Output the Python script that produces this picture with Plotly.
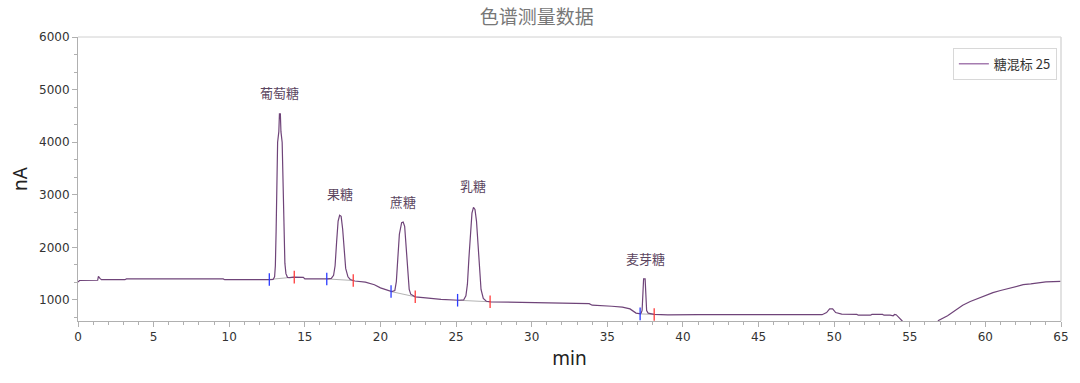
import plotly.graph_objects as go

# Chromatogram signal (time in min, signal in nA)
time_min = [0.0, 0.1, 1.3, 1.35, 1.45, 1.55, 3.1, 3.2, 9.6, 9.7, 12.7,
            12.9, 13.0, 13.05, 13.1, 13.15, 13.2, 13.28, 13.32, 13.38, 13.42, 13.5, 13.55, 13.6, 13.68, 13.75, 13.85,
            14.0, 14.3, 14.9, 15.0, 16.5,
            16.75, 16.9, 17.0, 17.1, 17.2, 17.3, 17.4, 17.5, 17.6, 17.7, 17.85, 18.0, 18.2, 18.3,
            19.0, 19.6, 20.0, 20.4, 20.75,
            20.95, 21.05, 21.15, 21.25, 21.4, 21.5, 21.6, 21.7, 21.8, 21.9, 22.0, 22.3, 23.0, 24.0, 25.2,
            25.5, 25.65, 25.75, 25.85, 25.95, 26.05, 26.15, 26.25, 26.35, 26.45, 26.55, 26.65, 26.8, 27.0, 27.3,
            28.0, 30.0, 33.8, 34.0, 35.0, 35.3, 36.0, 36.5, 36.9, 37.2,
            37.25, 37.3, 37.35, 37.4, 37.5, 37.55, 37.6, 37.7, 38.1, 39.0, 40.5, 41.0, 49.2,
            49.5, 49.7, 49.9, 50.1, 50.5, 51.5, 51.6, 52.4, 52.5, 53.2, 53.3, 53.7, 53.9, 54.0, 54.1, 54.5, 54.6,
            56.8, 56.9, 57.5, 58.0, 58.5, 59.0, 59.5, 60.0, 60.5, 61.0, 61.5, 62.0, 62.5, 63.0, 63.5, 64.0, 65.0]
signal_nA = [1340, 1370, 1375, 1450, 1410, 1385, 1385, 1400, 1400, 1385, 1385,
             1390, 1440, 1650, 2300, 3300, 4000, 4200, 4540, 4540, 4200, 4000, 3300, 2300, 1700, 1500, 1430,
             1425, 1435, 1430, 1400, 1400,
             1410, 1470, 1650, 2100, 2500, 2610, 2590, 2350, 1900, 1600, 1440, 1390, 1370, 1360,
             1340, 1290, 1230, 1190, 1160,
             1180, 1350, 1800, 2250, 2470, 2480, 2400, 2000, 1500, 1200, 1110, 1060, 1040, 1010, 995,
             1000, 1080, 1300, 1800, 2300, 2650, 2760, 2720, 2500, 2000, 1500, 1200, 1030, 975, 965,
             960, 950, 930, 900, 890, 880, 865, 830, 750, 735,
             760, 800, 1100, 1400, 1400, 1100, 800, 750, 725, 715, 720, 720, 720,
             760, 830, 830, 760, 730, 725, 710, 710, 725, 725, 710, 710, 700, 725, 720, 600, 560,
             560, 610, 700, 800, 900, 970, 1030, 1080, 1140, 1180, 1220, 1255, 1290, 1305, 1320, 1345, 1355]

# Peak names and label positions
peak_names = ["葡萄糖", "果糖", "蔗糖", "乳糖", "麦芽糖"]
peak_label_t = [13.35, 17.3, 21.5, 26.1, 37.5]
peak_label_v = [4950, 3030, 2880, 3170, 1790]

# Integration start / end points
int_start_t = [12.65, 16.45, 20.7, 25.1, 37.17]
int_start_v = [1390, 1400, 1160, 995, 735]
int_end_t = [14.3, 18.2, 22.3, 27.25, 38.1]
int_end_v = [1435, 1370, 1060, 965, 725]

series_name = "糖混标 25"
title_text = "色谱测量数据"

line_color = "#6f4479"
fig = go.Figure()

# integration baselines
for s_t, s_v, e_t, e_v in zip(int_start_t, int_start_v, int_end_t, int_end_v):
    fig.add_trace(go.Scatter(x=[s_t, e_t], y=[s_v, e_v], mode="lines",
                             line=dict(color="#b4b4b4", width=1), showlegend=False, hoverinfo="skip"))

fig.add_trace(go.Scatter(x=time_min, y=signal_nA, mode="lines",
                         line=dict(color=line_color, width=1.2), showlegend=False, name=series_name))
fig.add_trace(go.Scatter(x=[None], y=[None], mode="lines",
                         line=dict(color="#a57cb0", width=1.5), name=series_name))

fig.add_trace(go.Scatter(x=int_start_t, y=int_start_v, mode="markers",
                         marker=dict(symbol="line-ns-open", size=9, color="#2b3bff",
                                     line=dict(color="#2b3bff", width=1.3)),
                         showlegend=False, hoverinfo="skip"))
fig.add_trace(go.Scatter(x=int_end_t, y=int_end_v, mode="markers",
                         marker=dict(symbol="line-ns-open", size=9, color="#ff3b3b",
                                     line=dict(color="#ff3b3b", width=1.3)),
                         showlegend=False, hoverinfo="skip"))

for name, t, v in zip(peak_names, peak_label_t, peak_label_v):
    fig.add_annotation(x=t, y=v, text=name, showarrow=False,
                       font=dict(family="Noto Sans CJK SC", size=13, color="#5b4560"))

fig.update_layout(
    width=1080, height=383,
    margin=dict(l=78, r=19, t=37, b=62, autoexpand=False),
    paper_bgcolor="white", plot_bgcolor="white",
    title=dict(text=title_text, x=0.497, xref="container", xanchor="center",
               y=0.955, yref="container", yanchor="middle",
               font=dict(family="Noto Sans CJK SC", size=19, color="#777777")),
    legend=dict(x=0.89, y=0.962, xanchor="left", yanchor="top",
                bordercolor="#d8d8d8", borderwidth=1, bgcolor="white",
                font=dict(family="Noto Sans CJK SC", size=13, color="#333333"),
                itemwidth=30),
    xaxis=dict(range=[0, 65], tick0=0, dtick=5, showgrid=False, zeroline=False,
               showline=True, linecolor="#b0b0b0", linewidth=1, mirror=False,
               ticks="outside", ticklen=5, tickcolor="#b0b0b0",
               minor=dict(dtick=1, ticks="outside", ticklen=3, tickcolor="#b0b0b0"),
               tickfont=dict(family="DejaVu Sans", size=12, color="#333333"),
               title=dict(text="min", font=dict(family="Noto Sans", size=19, color="#222222"), standoff=8)),
    yaxis=dict(range=[600, 6000], tick0=0, dtick=1000, showgrid=False, zeroline=False,
               showline=True, linecolor="#b0b0b0", linewidth=1,
               ticks="outside", ticklen=5, tickcolor="#b0b0b0",
               minor=dict(dtick=1000/3, ticks="outside", ticklen=3, tickcolor="#b0b0b0"),
               tickfont=dict(family="DejaVu Sans", size=12, color="#333333"),
               title=dict(text="nA", font=dict(family="Noto Sans", size=19, color="#222222"), standoff=6)),
)

# light frame on top and right
fig.add_shape(type="line", xref="paper", yref="paper", x0=0, x1=1, y0=1, y1=1,
              line=dict(color="#d0d0d0", width=1))
fig.add_shape(type="line", xref="paper", yref="paper", x0=1, x1=1, y0=0, y1=1,
              line=dict(color="#d8d8d8", width=1.5))

# remove the default 8px page margin so the figure sits at the window origin
fig.write_html("out.html", config={"displayModeBar": False},
               post_script="document.body.style.margin='0';")
